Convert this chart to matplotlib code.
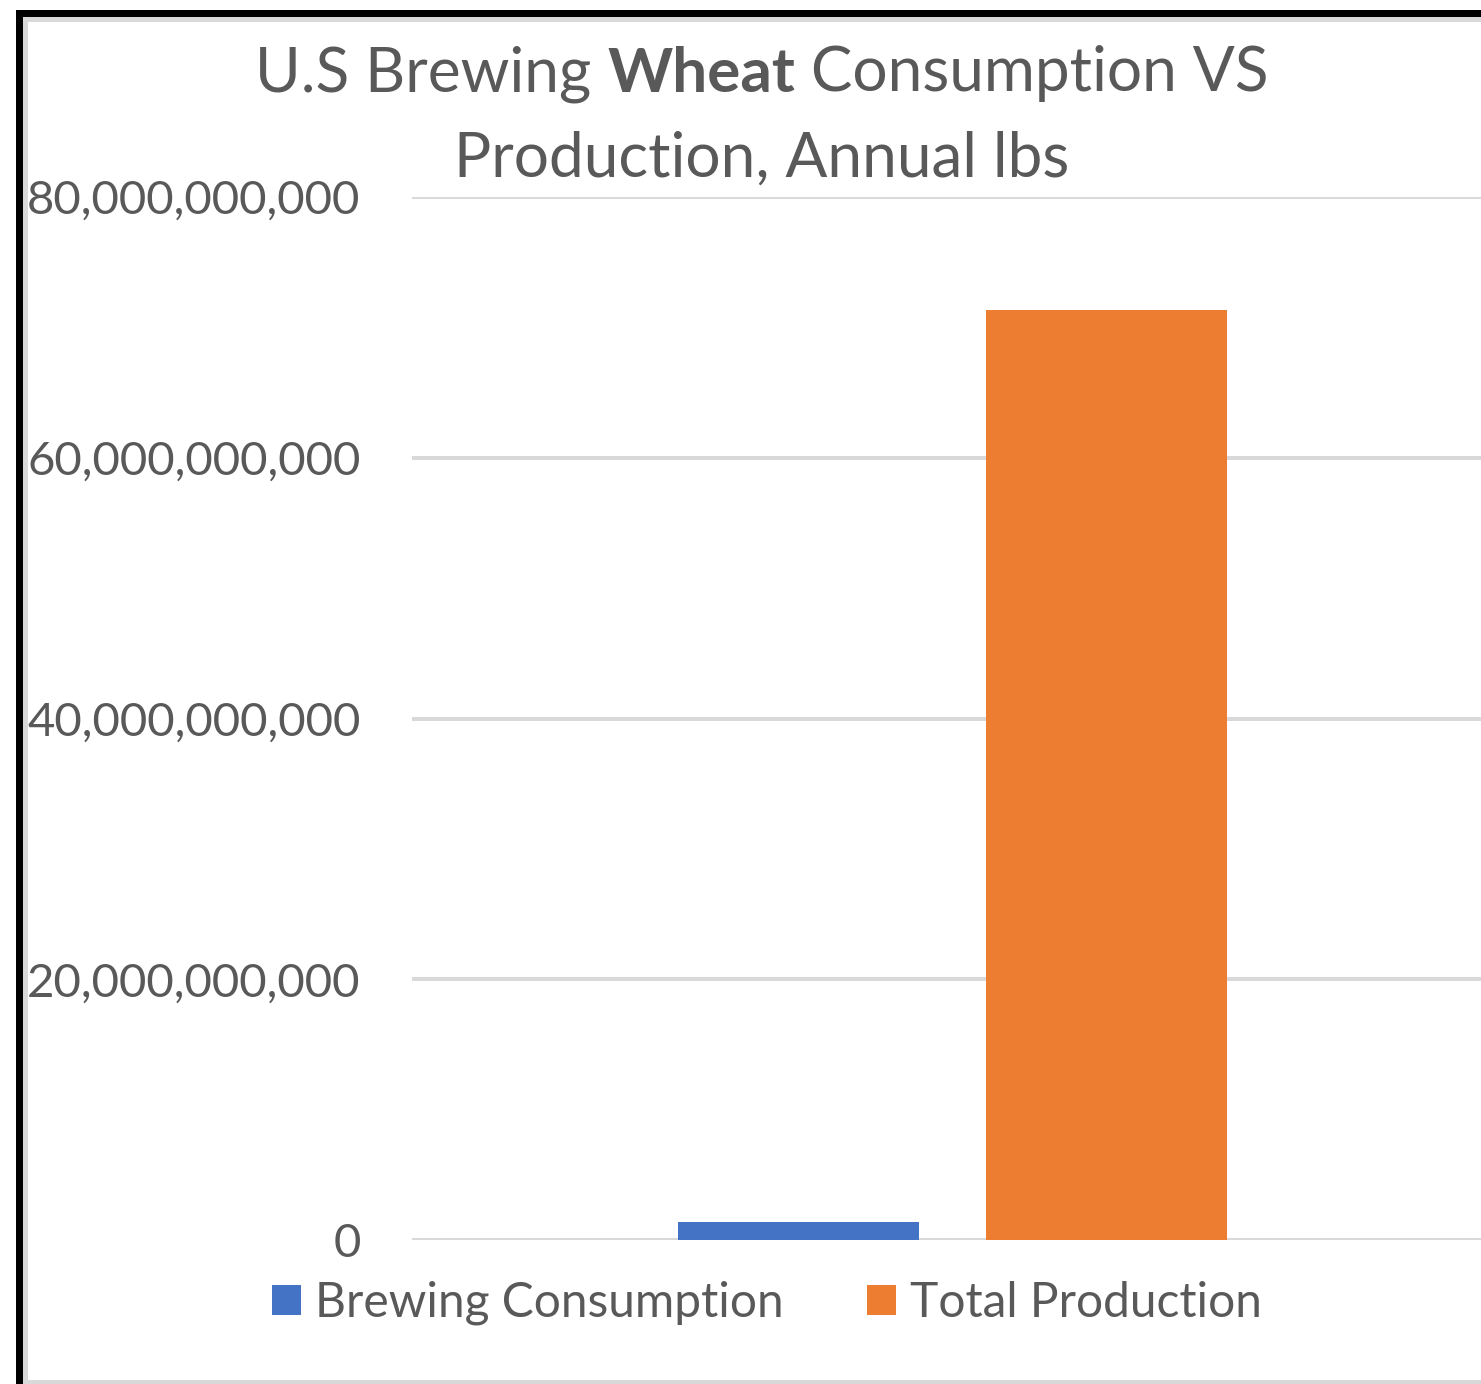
import matplotlib.pyplot as plt
from matplotlib.patches import Patch, Rectangle
from matplotlib.ticker import FuncFormatter

plt.rcParams['font.family'] = ['Lato', 'DejaVu Sans']

series = ['Brewing Consumption', 'Total Production']
values = [1.4e9, 71.3e9]
colors = ['#4472C4', '#ED7D31']
yticks = [0, 20e9, 40e9, 60e9, 80e9]
text_color = '#595959'
grid_color = '#D9D9D9'

W, H = 1481, 1384
fig = plt.figure(figsize=(W / 100, H / 100), dpi=100)

# plot area in pixel terms, converted to figure fractions
left, right, bottom, top = 412, 1481, 1240, 197
ax = fig.add_axes([left / W, 1 - bottom / H, (right - left) / W, (bottom - top) / H])

offsets = [-0.143, 0.142]
width = 0.223
for off, val, col in zip(offsets, values, colors):
    ax.bar(off, val, width=width, color=col, zorder=3)

ax.set_xlim(-0.5, 0.488)
ax.set_ylim(0, 80e9)
ax.set_yticks(yticks)
ax.yaxis.set_major_formatter(FuncFormatter(lambda v, p: f'{v:,.0f}'))
ax.set_xticks([])
ax.tick_params(axis='y', length=0, pad=37, labelsize=34, labelcolor=text_color)
ax.grid(axis='y', color=grid_color, linewidth=2.9, zorder=0)
for s in ax.spines.values():
    s.set_visible(False)

# title, with the grain name in bold
fig.canvas.draw()
r = fig.canvas.get_renderer()
parts = [('U.S Brewing ', 'normal'), ('Wheat', 'bold'), (' Consumption VS', 'normal')]
fs = 44.7
texts = []
for s, w in parts:
    t = fig.text(0, 1 - 74 / H, s, fontsize=fs, fontweight=w, color=text_color,
                 va='center', ha='left')
    texts.append(t)
widths = [t.get_window_extent(r).width for t in texts]
x = 762 - sum(widths) / 2
for t, w in zip(texts, widths):
    t.set_x(x / W)
    x += w
fig.text(762 / W, 1 - 159 / H, 'Production, Annual lbs', fontsize=fs,
         color=text_color, ha='center', va='center')

handles = [Patch(facecolor=c, edgecolor='none') for c in colors]
fig.legend(handles, series, loc='center', bbox_to_anchor=(767 / W, 1 - 1303 / H),
           ncol=2, frameon=False, fontsize=34.5, labelcolor=text_color,
           handlelength=0.6, handleheight=0.6, handletextpad=0.3, columnspacing=1.73)


def frame_box(x0, y0, x1, y1, color):
    # rectangle given in pixel coordinates from the top-left corner
    fig.add_artist(Rectangle((x0 / W, 1 - y1 / H), (x1 - x0) / W, (y1 - y0) / H,
                             transform=fig.transFigure, facecolor=color,
                             edgecolor='none', zorder=10))


# outer frame: black on top/left, light grey inside it
frame_box(16, 10, W, 17, 'black')
frame_box(16, 10, 23, H, 'black')
frame_box(23, 17, W, 22, grid_color)
frame_box(23, 17, 28, H, grid_color)
frame_box(23, 1380, W, H, grid_color)

fig.savefig('out.png', dpi=100)
